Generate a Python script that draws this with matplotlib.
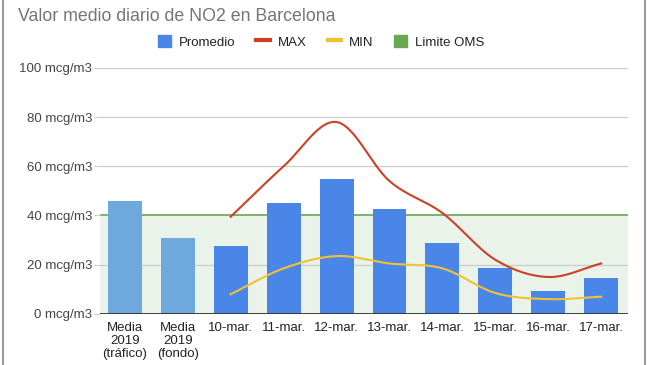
import numpy as np
import matplotlib
matplotlib.use('Agg')
import matplotlib.pyplot as plt
from matplotlib.lines import Line2D
from matplotlib.patches import Patch

plt.rcParams['font.family'] = ['Liberation Sans', 'DejaVu Sans']

# Data
categories = ['Media\n2019\n(tráfico)', 'Media\n2019\n(fondo)', '10-mar.', '11-mar.', '12-mar.',
              '13-mar.', '14-mar.', '15-mar.', '16-mar.', '17-mar.']
promedio = [46, 31, 27.5, 45, 55, 42.5, 29, 18.5, 9.5, 14.5]
max_days = ['10-mar.', '11-mar.', '12-mar.', '13-mar.', '14-mar.', '15-mar.', '16-mar.', '17-mar.']
max_vals = [39.5, 60, 78, 54, 41, 22, 15, 20.5]
min_vals = [8, 18.5, 23.5, 20.5, 18.5, 8.5, 6, 7]
limite_oms = 40
yticks = [0, 20, 40, 60, 80, 100]

bar_colors = ['#6fa8dc', '#6fa8dc'] + ['#4a86e8'] * 8
red = '#cc4125'
yellow = '#f1c232'
green = '#6aa84f'


def smooth(x, y, n=30):
    # cubic Hermite curve through the points, for drawing only
    x = np.asarray(x, float)
    y = np.asarray(y, float)
    m = np.gradient(y, x)
    xs, ys = [], []
    for i in range(len(x) - 1):
        h = x[i + 1] - x[i]
        t = np.linspace(0, 1, n)
        h00 = 2 * t**3 - 3 * t**2 + 1
        h10 = t**3 - 2 * t**2 + t
        h01 = -2 * t**3 + 3 * t**2
        h11 = t**3 - t**2
        xs.append(x[i] + t * h)
        ys.append(h00 * y[i] + h10 * h * m[i] + h01 * y[i + 1] + h11 * h * m[i + 1])
    return np.concatenate(xs), np.concatenate(ys)


fig = plt.figure(figsize=(6.49, 3.65), dpi=100)
ax = fig.add_axes([0.154, 0.140, 0.814, 0.674])

x = np.arange(len(categories))
xl = [categories.index(d) for d in max_days]

ax.axhspan(0, limite_oms, color='#e9f3ea', zorder=0)
for t in yticks[1:]:
    if t != limite_oms:
        ax.axhline(t, color='#cccccc', lw=0.9, zorder=1)
ax.axhline(limite_oms, color=green, lw=1.2, zorder=1.5)

ax.bar(x, promedio, width=0.64, color=bar_colors, zorder=2)

sx, sy = smooth(xl, max_vals)
ax.plot(sx, sy, color=red, lw=1.5, zorder=3)
sx, sy = smooth(xl, min_vals)
ax.plot(sx, sy, color=yellow, lw=1.5, zorder=3)

ax.axhline(0, color='#333333', lw=1.3, zorder=4)

ax.set_xlim(-0.47, 9.51)
ax.set_ylim(0, 100)
ax.set_yticks(yticks)
ax.set_yticklabels([f'{t} mcg/m3' for t in yticks], color='#444444', fontsize=9.5)
ax.set_xticks(x)
ax.set_xticklabels(categories, color='#222222', fontsize=9.5, linespacing=1.1)
ax.tick_params(axis='y', length=4, color='#cccccc', pad=1.5)
ax.tick_params(axis='x', length=0, pad=6)
for s in ax.spines.values():
    s.set_visible(False)
ax.set_facecolor('none')

fig.text(0.028, 0.955, 'Valor medio diario de NO2 en Barcelona', fontsize=12.8, color='#757575',
         va='center', ha='left')

handles = [Patch(color='#4a86e8'), Line2D([], [], color=red, lw=3),
           Line2D([], [], color=yellow, lw=3), Patch(color=green)]
fig.legend(handles, ['Promedio', 'MAX', 'MIN', 'Limite OMS'], loc='center',
           bbox_to_anchor=(0.495, 0.885), ncol=4, frameon=False, fontsize=9.5,
           handlelength=1.0, handleheight=1.0, handletextpad=0.6, columnspacing=1.6,
           labelcolor='#222222')

# screenshot frame
fig.add_artist(Line2D([0.004, 0.004], [0, 1], transform=fig.transFigure, color='#999999', lw=1.5))
fig.add_artist(Line2D([0.994, 0.994], [0, 1], transform=fig.transFigure, color='#999999', lw=1.5))

fig.savefig('out.png', dpi=100)
plt.close()
